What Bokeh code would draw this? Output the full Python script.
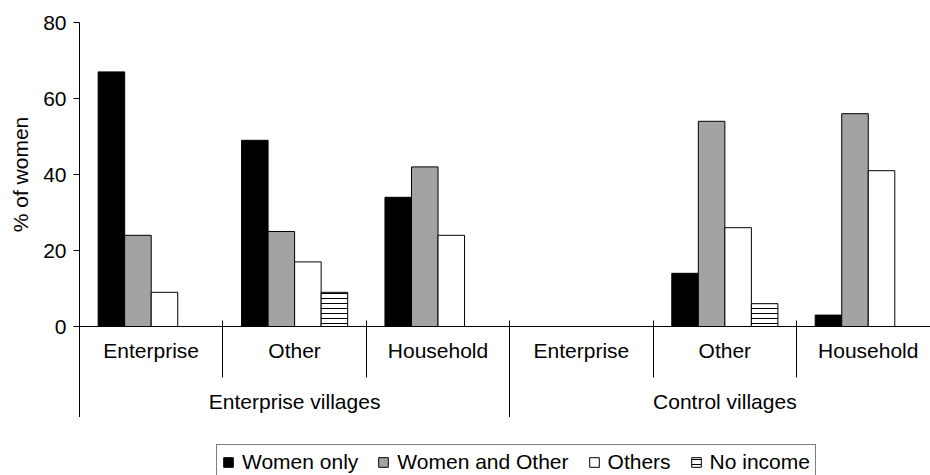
from bokeh.plotting import figure
from bokeh.models import (Range1d, FixedTicker, LinearAxis, Legend, LegendItem,
                          ColumnDataSource)
from bokeh.layouts import column
from bokeh.transform import dodge
from bokeh.embed import file_html
from bokeh.resources import INLINE

# ---- data ----
groups = ["Enterprise villages", "Control villages"]
categories = ["Enterprise", "Other", "Household", "Enterprise", "Other", "Household"]
series = ["Women only", "Women and Other", "Others", "No income"]
women_only = [67, 49, 34, 0, 14, 3]
women_and_other = [24, 25, 42, 0, 54, 56]
others = [9, 17, 24, 0, 26, 41]
no_income = [0, 9, 0, 0, 6, 0]
y_ticks = [0, 20, 40, 60, 80]

FONT = "Liberation Sans"
FS = "21px"

n = len(categories)
pos = [i + 0.5 for i in range(n)]
per_group = n // len(groups)
group_pos = [g * per_group + per_group / 2 for g in range(len(groups))]
source = ColumnDataSource(dict(x=pos, women_only=women_only,
                               women_and_other=women_and_other,
                               others=others, no_income=no_income))

p = figure(width=930, height=417, x_range=Range1d(0, 5.934), y_range=Range1d(0, 80),
           output_backend="svg", toolbar_location=None,
           x_axis_location=None, y_axis_location=None,
           min_border_left=79, min_border_right=0, min_border_top=22,
           min_border_bottom=91)
p.outline_line_color = None
p.grid.visible = False
p.background_fill_color = "white"
p.border_fill_color = "white"

bw = 0.185
cols = ["women_only", "women_and_other", "others", "no_income"]
fills = ["black", "#a3a3a3", "white", "white"]
offs = [-1.5 * bw, -0.5 * bw, 0.5 * bw, 1.5 * bw]


def bar_style(col, fc):
    kw = dict(fill_color=fc, line_color="black", line_width=1)
    if col == "no_income":
        kw.update(hatch_pattern="horizontal_line", hatch_scale=5,
                  hatch_color="black", hatch_weight=1)
    return kw


for col, fc, off in zip(cols, fills, offs):
    p.vbar(x=dodge("x", off, range=p.x_range), top=col, bottom=0, width=bw,
           source=source, **bar_style(col, fc))

# y axis
yax = LinearAxis(ticker=FixedTicker(ticks=y_ticks, minor_ticks=[]),
                 axis_label="% of women")
yax.major_tick_out = 6
yax.major_tick_in = 0
yax.major_label_standoff = 7
yax.axis_label_standoff = 8
yax.major_label_text_font = FONT
yax.major_label_text_font_size = FS
yax.major_label_text_color = "black"
yax.axis_label_text_font = FONT
yax.axis_label_text_font_size = FS
yax.axis_label_text_font_style = "normal"
yax.axis_label_text_color = "black"
yax.axis_line_color = "black"
yax.major_tick_line_color = "black"
p.add_layout(yax, "left")

# x axis: categories + separators
xa = LinearAxis(ticker=FixedTicker(ticks=pos, minor_ticks=list(range(n))))
xa.major_label_overrides = {pos[i]: categories[i] for i in range(n)}
xa.major_tick_line_color = None
xa.major_tick_in = 0
xa.major_tick_out = 0
xa.minor_tick_in = 6
xa.minor_tick_out = 51
xa.minor_tick_line_color = "black"
xa.major_label_standoff = -39
xa.major_label_text_font = FONT
xa.major_label_text_font_size = FS
xa.major_label_text_color = "black"
xa.axis_line_color = "black"
p.add_layout(xa, "below")

# x axis: groups
xb = LinearAxis(ticker=FixedTicker(ticks=group_pos,
                                   minor_ticks=[g * per_group for g in range(len(groups))]))
xb.major_label_overrides = {group_pos[i]: groups[i] for i in range(len(groups))}
xb.axis_line_color = None
xb.major_tick_line_color = None
xb.major_tick_in = 0
xb.major_tick_out = 0
xb.minor_tick_in = 0
xb.minor_tick_out = 55
xb.minor_tick_line_color = "black"
xb.major_label_standoff = -30
xb.major_label_text_font = FONT
xb.major_label_text_font_size = FS
xb.major_label_text_color = "black"
p.add_layout(xb, "below")

# ---- legend strip (its bars lie outside its visible range) ----
q = figure(width=930, height=58, x_range=Range1d(-20, -19), y_range=Range1d(0, 1),
           output_backend="svg", toolbar_location=None,
           x_axis_location=None, y_axis_location=None,
           min_border_left=0, min_border_right=0, min_border_top=0,
           min_border_bottom=0)
q.outline_line_color = None
q.grid.visible = False
q.background_fill_color = "white"
q.border_fill_color = "white"
lrs = []
for col, fc, off in zip(cols, fills, offs):
    lrs.append(q.vbar(x=dodge("x", off, range=q.x_range), top=col, bottom=0,
                      width=bw, source=source, **bar_style(col, fc)))

legend = Legend(items=[LegendItem(label=s, renderers=[r], index=1)
                       for s, r in zip(series, lrs)],
                orientation="horizontal", location=(137, -5))
legend.label_text_font = FONT
legend.label_text_font_size = FS
legend.label_text_color = "black"
legend.glyph_width = 12
legend.glyph_height = 12
legend.label_standoff = 8
legend.spacing = 19
legend.padding = 5
legend.margin = 0
legend.label_height = 20
legend.border_line_color = "black"
legend.border_line_width = 1
legend.background_fill_alpha = 1
q.add_layout(legend, "center")

open("out.html", "w").write(file_html(column(p, q, spacing=0), INLINE))
